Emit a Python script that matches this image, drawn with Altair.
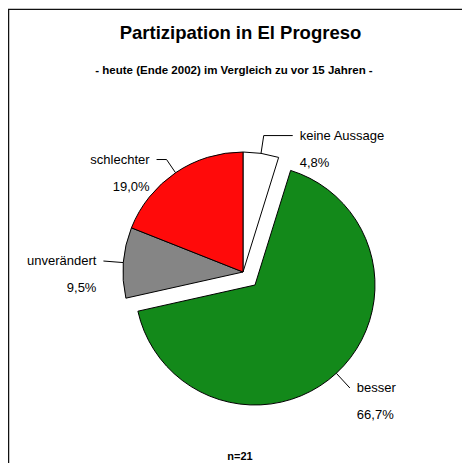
import altair as alt
import pandas as pd

# ---- data ----
categories = ["keine Aussage", "besser", "unverändert", "schlechter"]
values = [4.8, 66.7, 9.5, 19.0]
colors = ["#FFFFFF", "#13891A", "#858585", "#FF0A0A"]

title_text = "Partizipation in El Progreso"
subtitle_text = "- heute (Ende 2002) im Vergleich zu vor 15 Jahren -"
footer_text = "n=21"

# ---- layout (not data) ----
W, H = 454, 455
CX, CY = 235, 264          # pie centre in view pixels
R = 120
explode = [0, 17.7, 0, 0]  # exploded slice distance
leader_len = [18, 20, 20, 16]
leader_h = [29, 0, 0, -10]
GAP = 7
FONT = "Liberation Sans"

labels = [c + "\n" + f"{v:.1f}".replace(".", ",") + "%" for c, v in zip(categories, values)]
df = pd.DataFrame({
    "cat": categories, "value": values, "order": list(range(len(categories))),
    "explode": explode, "ll": leader_len, "lh": leader_h, "label": labels,
})

base = (
    alt.Chart(df)
    .transform_window(cum="sum(value)", sort=[alt.SortField("order")], frame=[None, 0])
    .transform_joinaggregate(total="sum(value)")
    .transform_calculate(am="2*PI*(datum.cum - datum.value/2)/datum.total")
    .transform_calculate(cx=f"{CX} + datum.explode*sin(datum.am)")
    .transform_calculate(cy=f"{CY} - datum.explode*cos(datum.am)")
    .transform_calculate(x1=f"datum.cx + {R}*sin(datum.am)")
    .transform_calculate(y1=f"datum.cy - {R}*cos(datum.am)")
    .transform_calculate(x2=f"datum.cx + ({R}+datum.ll)*sin(datum.am)")
    .transform_calculate(y2=f"datum.cy - ({R}+datum.ll)*cos(datum.am)")
    .transform_calculate(x3="datum.x2 + datum.lh")
    .transform_calculate(tx=f"datum.am < PI ? datum.x3 + {GAP} : datum.x3 - {GAP}")
)

pie = alt.Chart(df).mark_arc(radius=R, stroke="black", strokeWidth=1).encode(
    theta=alt.Theta("value:Q", stack=True),
    order=alt.Order("order:Q"),
    color=alt.Color("cat:N", scale=alt.Scale(domain=categories, range=colors), legend=None),
    x=alt.X("cx:Q", scale=None),
    y=alt.Y("cy:Q", scale=None),
).transform_window(cum="sum(value)", sort=[alt.SortField("order")], frame=[None, 0]
).transform_joinaggregate(total="sum(value)"
).transform_calculate(am="2*PI*(datum.cum - datum.value/2)/datum.total"
).transform_calculate(cx=f"{CX} + datum.explode*sin(datum.am)"
).transform_calculate(cy=f"{CY} - datum.explode*cos(datum.am)")

lead1 = base.mark_rule(color="black", strokeWidth=1).encode(
    x=alt.X("x1:Q", scale=None), y=alt.Y("y1:Q", scale=None),
    x2="x2:Q", y2="y2:Q",
)
lead2 = base.mark_rule(color="black", strokeWidth=1).encode(
    x=alt.X("x2:Q", scale=None), y=alt.Y("y2:Q", scale=None),
    x2="x3:Q", y2="y2:Q",
)

txt_kw = dict(font=FONT, fontSize=13, lineBreak="\n", lineHeight=27, baseline="middle", color="black")
text_right = base.transform_filter("datum.am < PI").mark_text(align="left", **txt_kw).encode(
    x=alt.X("tx:Q", scale=None), y=alt.Y("y2:Q", scale=None), text="label:N")
text_left = base.transform_filter("datum.am >= PI").mark_text(align="right", **txt_kw).encode(
    x=alt.X("tx:Q", scale=None), y=alt.Y("y2:Q", scale=None), text="label:N")

one = pd.DataFrame({"t": [0]})
title = alt.Chart(one).mark_text(font=FONT, fontSize=18.5, fontWeight="bold", align="center",
                                 baseline="alphabetic").encode(
    x=alt.value(232.5), y=alt.value(31), text=alt.value(title_text))
subtitle = alt.Chart(one).mark_text(font=FONT, fontSize=11.5, fontWeight="bold", align="center",
                                    baseline="alphabetic").encode(
    x=alt.value(226), y=alt.value(66), text=alt.value(subtitle_text))
footer = alt.Chart(one).mark_text(font=FONT, fontSize=11, fontWeight="bold", align="center",
                                  baseline="alphabetic").encode(
    x=alt.value(232), y=alt.value(452), text=alt.value(footer_text))

border_top = alt.Chart(one).mark_rule(color="#111", strokeWidth=1.3).encode(
    x=alt.value(0), x2=alt.value(W), y=alt.value(1.3))
border_left = alt.Chart(one).mark_rule(color="#111", strokeWidth=1.3).encode(
    x=alt.value(0.6), y=alt.value(1.3), y2=alt.value(H))

chart = alt.layer(
    pie, lead1, lead2, text_right, text_left, title, subtitle, footer, border_top, border_left
).properties(
    width=W, height=H, padding=0, autosize="none", background="white"
).configure_view(stroke=None)

chart.save("out.html", embed_options={"renderer": "svg", "actions": False})
